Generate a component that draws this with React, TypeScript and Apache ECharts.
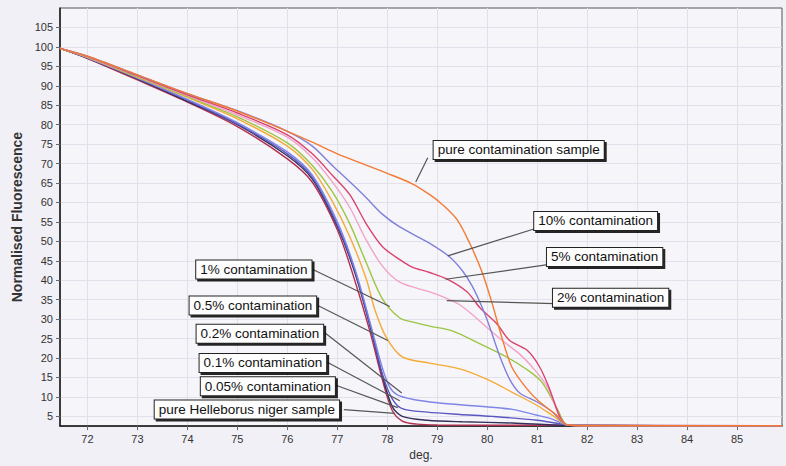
import React, { useEffect, useRef } from "react";
import * as echarts from "echarts";

const xTicks = [72, 73, 74, 75, 76, 77, 78, 79, 80, 81, 82, 83, 84, 85];
const yTicks = [5, 10, 15, 20, 25, 30, 35, 40, 45, 50, 55, 60, 65, 70, 75, 80, 85, 90, 95, 100, 105];

const pureContamination = [[71.45,99.6],[72,97.6],[73,92.8],[74,88],[75,83.5],[76,78.3],[76.5,75.5],[77,72.5],[77.5,70],[78,67.5],[78.5,64.8],[78.85,62],[79.1,59.5],[79.4,55.5],[79.65,49.5],[79.9,42],[80.1,34],[80.3,25],[80.5,17.5],[80.8,12],[81.05,8.7],[81.4,5.2],[81.6,2.8],[82,2.6],[85.9,2.6]];
const c10 = [[71.45,99.6],[72,97.6],[73,92.8],[74,88],[75,83.6],[76,78.3],[76.5,74.5],[76.9,69.5],[77.25,65.3],[77.58,61.2],[77.9,57],[78.25,53.7],[78.85,49.5],[79.25,46],[79.5,42.5],[79.7,38.5],[79.9,33],[80.05,28],[80.25,20.5],[80.45,14.5],[80.65,11],[81,8.7],[81.3,6.2],[81.6,2.8],[82,2.6],[85.9,2.6]];
const c5 = [[71.45,99.6],[72,97.5],[73,92.6],[74,87.7],[75,83],[76,77.4],[76.5,72.5],[76.9,67],[77.25,62],[77.58,54.5],[77.9,48.7],[78.25,45.3],[78.5,43.4],[78.85,42],[79.2,40.3],[79.6,37],[79.85,33],[80.2,28.7],[80.45,24.5],[80.8,22],[81.05,17.7],[81.25,12],[81.45,5],[81.6,2.8],[82,2.6],[85.9,2.6]];
const c2 = [[71.45,99.6],[72,97.4],[73,92.5],[74,87.5],[75,82.5],[76,76.8],[76.5,71.5],[76.9,65.3],[77.25,58.7],[77.58,50.3],[77.9,43.7],[78.25,39.5],[78.85,37],[79.2,35.3],[79.45,33.7],[79.7,31.2],[80,27.8],[80.3,24.5],[80.65,21],[80.9,17.7],[81.2,12.7],[81.45,5],[81.6,2.8],[82,2.6],[85.9,2.6]];
const c1 = [[71.45,99.6],[72,97.3],[73,92.3],[74,87.2],[75,82],[76,75.3],[76.5,69.5],[76.9,62.8],[77.25,54.5],[77.58,44.5],[77.9,35.3],[78.25,30.3],[78.5,29.3],[78.85,28.2],[79.3,27],[79.85,23.7],[80.4,20.2],[80.8,17],[81.1,13.7],[81.4,7],[81.6,2.8],[82,2.6],[85.9,2.6]];
const c05 = [[71.45,99.6],[72,97.3],[73,92.2],[74,87],[75,81.5],[76,74.5],[76.5,68.5],[76.9,60.3],[77.25,51.2],[77.58,40.3],[77.75,32.5],[77.98,25.3],[78.3,20.3],[78.85,18.7],[79.45,17.2],[80,14.5],[80.5,11.2],[81,7.8],[81.3,5.3],[81.6,2.8],[82,2.6],[85.9,2.6]];
const c02 = [[71.45,99.6],[72,97.2],[73,92],[74,86.5],[75,80.5],[76,73],[76.5,67],[77,55],[77.35,43],[77.68,28],[77.9,17.5],[78.05,12.5],[78.2,10.5],[78.5,9.4],[79,8.5],[79.85,7.6],[80.5,6.8],[81,5.3],[81.3,4.3],[81.6,2.8],[82,2.6],[85.9,2.6]];
const c01 = [[71.45,99.6],[72,97.2],[73,92],[74,86.3],[75,80.2],[76,72.5],[76.5,66.5],[77,54.3],[77.35,42.5],[77.68,27.5],[77.9,16],[78.1,9.5],[78.3,7],[78.8,6.1],[79.45,5.5],[80.1,5],[81,4],[81.6,2.8],[82,2.6],[85.9,2.6]];
const c005 = [[71.45,99.6],[72,97.1],[73,91.8],[74,86],[75,80],[76,72],[76.5,66],[77,53.8],[77.35,42],[77.68,27],[77.9,15.5],[78.1,7.5],[78.3,5],[78.8,4],[79.5,3.6],[80.5,3.3],[81.6,2.7],[85.9,2.6]];
const helleborus = [[71.45,99.6],[72,97],[73,91.5],[74,85.8],[75,79.5],[76,71.2],[76.5,65.2],[77,53],[77.3,42],[77.65,27],[77.9,14.5],[78.1,6.5],[78.3,3.8],[78.6,3],[79,2.8],[81.6,2.7],[85.9,2.6]];

const seriesNames = [
  "pure contamination sample",
  "10% contamination",
  "5% contamination",
  "2% contamination",
  "1% contamination",
  "0.5% contamination",
  "0.2% contamination",
  "0.1% contamination",
  "0.05% contamination",
  "pure Helleborus niger sample",
];
const seriesData = [pureContamination, c10, c5, c2, c1, c05, c02, c01, c005, helleborus];
const seriesColors = ["#f47a32", "#8080d8", "#d9436e", "#f2a2c8", "#9cc642", "#f6aa36", "#7f86e6", "#5a58c0", "#35305a", "#b33050"];

// annotation boxes (centre, in data units) and leader lines (box -> curve)
const labelCenters = [[80.63,73.5],[82.17,55.25],[82.35,46],[82.47,35.5],[75.33,42.75],[75.31,33.5],[75.45,26.25],[75.51,18.75],[75.61,12.75],[75.19,6.75]];
const leaderStarts = [[78.81,71.5],[80.95,53.25],[81.21,44],[81.35,34],[76.51,42.75],[76.61,33.5],[76.75,26.5],[76.79,19],[76.97,13],[77.13,6.75]];
const leaderEnds = [[78.57,65.25],[79.21,46.25],[79.17,40.25],[79.19,34.75],[78.05,33.25],[78.01,24.5],[78.29,11],[78.25,9],[78.21,7.25],[78.15,5.75]];

const FONT = "'Liberation Sans', Arial, Helvetica, sans-serif";

export default function App() {
  const ref = useRef<HTMLDivElement>(null);
  useEffect(() => {
    if (!ref.current) return;
    const chart = echarts.init(ref.current, undefined, { renderer: "svg" });
    const series: any[] = seriesNames.map((name, i) => ({
      name,
      type: "line",
      data: seriesData[i],
      showSymbol: false,
      smooth: 0.3,
      lineStyle: { color: seriesColors[i], width: 1.4 },
      itemStyle: { color: seriesColors[i] },
      z: 3 + (seriesNames.length - i) * 0.01,
      markLine: {
        silent: true,
        symbol: ["none", "none"],
        label: { show: false },
        lineStyle: { color: "#555", width: 1.2, type: "solid" },
        data: [[{ coord: leaderStarts[i] }, { coord: leaderEnds[i] }]],
      },
      markPoint: {
        silent: true,
        symbol: "rect",
        symbolSize: 0,
        data: [{ coord: labelCenters[i], value: name }],
        label: {
          show: true,
          position: "inside",
          formatter: name,
          color: "#111",
          fontFamily: FONT,
          fontSize: 13.5,
          backgroundColor: "#fdfdfd",
          borderColor: "#222",
          borderWidth: 1,
          padding: [2, 4, 2, 4],
          shadowColor: "rgba(0,0,0,0.85)",
          shadowOffsetX: 2,
          shadowOffsetY: 2,
          shadowBlur: 0,
        },
      },
    }));
    chart.setOption({
      animation: false,
      backgroundColor: "#f1f0f6",
      grid: {
        left: 60,
        right: 4,
        top: 8,
        bottom: 29,
        show: true,
        backgroundColor: "#f6f5fa",
        borderColor: "#555",
        borderWidth: 1,
      },
      xAxis: {
        type: "value",
        min: 71.45,
        max: 85.9,
        name: "deg.",
        nameLocation: "middle",
        nameGap: 18,
        nameTextStyle: { fontFamily: FONT, fontSize: 12, color: "#333" },
        axisLine: { onZero: false, lineStyle: { color: "#1a1a1a", width: 1.5 } },
        axisTick: { show: true, length: 4, lineStyle: { color: "#666" }, customValues: xTicks },
        axisLabel: { customValues: xTicks, fontFamily: FONT, fontSize: 11, color: "#333", margin: 7 },
        splitLine: { show: true, lineStyle: { color: "#e2e1eb", width: 1 } },
      },
      yAxis: {
        type: "value",
        min: 2.5,
        max: 110,
        name: "Normalised Fluorescence",
        nameLocation: "middle",
        nameGap: 32,
        nameTextStyle: { fontFamily: FONT, fontSize: 14, fontWeight: "bold", color: "#333" },
        axisLine: { show: true, lineStyle: { color: "#1a1a1a", width: 1.5 } },
        axisTick: { show: true, length: 4, lineStyle: { color: "#666" }, customValues: yTicks },
        axisLabel: { customValues: yTicks, fontFamily: FONT, fontSize: 11, color: "#333", margin: 7 },
        splitLine: { show: true, lineStyle: { color: "#e2e1eb", width: 1 } },
      },
      series,
    });
    return () => chart.dispose();
  }, []);
  return (
    <div
      ref={ref}
      style={{ position: "fixed", left: 0, top: 0, width: 786, height: 466, background: "#f1f0f6" }}
    />
  );
}
